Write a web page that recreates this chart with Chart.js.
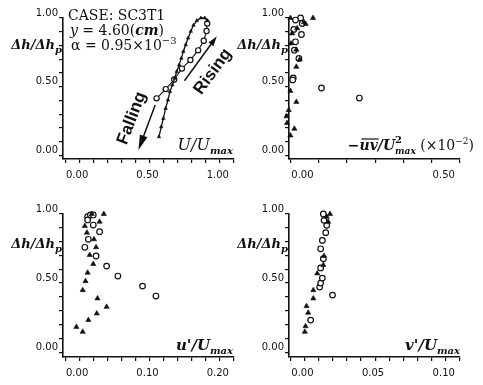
<!DOCTYPE html>
<html>
<head>
<meta charset="utf-8">
<script src="https://cdn.jsdelivr.net/npm/chart.js@4.4.1/dist/chart.umd.min.js"></script>
<style>
  html, body { margin: 0; padding: 0; background: #fff; }
  #wrap { position: relative; width: 483px; height: 385px; overflow: hidden; }
  .panel { position: absolute; }
</style>
</head>
<body>
<div id="wrap">
  <div class="panel" style="left:0;top:0;width:241px;height:190px"><canvas id="c1"></canvas></div>
  <div class="panel" style="left:225px;top:0;width:258px;height:190px"><canvas id="c2"></canvas></div>
  <div class="panel" style="left:0;top:190px;width:241px;height:195px"><canvas id="c3"></canvas></div>
  <div class="panel" style="left:225px;top:190px;width:258px;height:195px"><canvas id="c4"></canvas></div>
</div>
<script>
// ── Data ──────────────────────────────────────────────────────────────────────
// shared vertical axis: Δh/Δhp
const hMinor = [0, 0.1, 0.2, 0.3, 0.4, 0.5, 0.6, 0.7, 0.8, 0.9, 1.0];
const hMajor = [0, 0.5, 1.0];

// panel 1: U/Umax
const uMinor = [0, 0.1, 0.2, 0.3, 0.4, 0.5, 0.6, 0.7, 0.8, 0.9, 1.0, 1.1, 1.2];
const uMajor = [0, 0.5, 1.0];
const uTriU = [0.667, 0.683, 0.698, 0.714, 0.731, 0.745, 0.762, 0.779, 0.793, 0.810,
               0.826, 0.840, 0.857, 0.874, 0.893, 0.912, 0.936, 0.964, 0.993, 1.012];
const uTriH = [0.136, 0.209, 0.270, 0.343, 0.404, 0.465, 0.513, 0.562, 0.611, 0.659,
               0.708, 0.757, 0.805, 0.854, 0.903, 0.947, 0.981, 1.0, 1.0, 0.981];
const uCircU = [1.01, 1.005, 0.985, 0.945, 0.89, 0.83, 0.775, 0.715, 0.65];
const uCircH = [0.96, 0.905, 0.835, 0.765, 0.695, 0.632, 0.553, 0.483, 0.416];

// panel 2: -uv/Umax^2 (x10^-2)
const uvMinor = [0, 0.1, 0.2, 0.3, 0.4, 0.5, 0.6];
const uvMajor = [0, 0.5];
const uvTriX = [0.08, 0.0, 0.048, 0.054, 0.024, 0.006, 0.002, 0.021, 0.033, 0.021,
                0.0, 0.021, -0.006, -0.014, -0.012, 0.014, 0.0];
const uvTriH = [1.0, 1.0, 0.97, 0.956, 0.925, 0.888, 0.815, 0.77, 0.698, 0.645,
                0.47, 0.39, 0.33, 0.285, 0.236, 0.195, 0.146];
const uvCircX = [0.036, 0.018, 0.042, 0.012, 0.039, 0.018, 0.014, 0.03, -0.026, 0.01, 0.008, 0.11, 0.244];
const uvCircH = [1.0, 0.985, 0.96, 0.917, 0.88, 0.827, 0.766, 0.706, 0.628, 0.564, 0.55, 0.491, 0.418];

// panel 3: u'/Umax
const upMinor = [0, 0.02, 0.04, 0.06, 0.08, 0.1, 0.12, 0.14, 0.16, 0.18, 0.2, 0.22, 0.24];
const upMajor = [0, 0.1, 0.2];
const upTriX = [0.055, 0.038, 0.049, 0.028, 0.031, 0.041, 0.044, 0.035, 0.040, 0.032,
                0.029, 0.025, 0.046, 0.059, 0.045, 0.033, 0.016, 0.025];
const upTriH = [1.0, 1.0, 0.944, 0.913, 0.865, 0.817, 0.759, 0.703, 0.638, 0.575,
                0.514, 0.449, 0.389, 0.328, 0.28, 0.232, 0.183, 0.147];
const upCircX = [0.032, 0.036, 0.04, 0.032, 0.04, 0.049, 0.033, 0.028, 0.044, 0.059, 0.075, 0.110, 0.129];
const upCircH = [0.98, 0.993, 0.993, 0.957, 0.92, 0.872, 0.817, 0.759, 0.696, 0.623, 0.551, 0.478, 0.406];

// panel 4: v'/Umax
const vpMinor = [0, 0.01, 0.02, 0.03, 0.04, 0.05, 0.06, 0.07, 0.08, 0.09, 0.1, 0.11, 0.12];
const vpMajor = [0, 0.05, 0.1];
const vpTriX = [0.0102, 0.0107, 0.0126, 0.0114, 0.0162, 0.0162, 0.019, 0.0233, 0.0238, 0.0267, 0.028, 0.0257];
const vpTriH = [0.147, 0.188, 0.285, 0.333, 0.389, 0.449, 0.57, 0.63, 0.696, 0.944, 1.0, 0.98];
const vpCircX = [0.0143, 0.0298, 0.0207, 0.0214, 0.0226, 0.0214, 0.0233, 0.0214, 0.0226, 0.025, 0.0257, 0.0238, 0.0233];
const vpCircH = [0.232, 0.413, 0.471, 0.5, 0.536, 0.61, 0.676, 0.748, 0.809, 0.865, 0.918, 0.954, 1.0];

// ── Helpers ───────────────────────────────────────────────────────────────────
const INK = '#111';
const SERIF = '"DejaVu Serif", "Liberation Serif", serif';
const pts = (xs, ys) => xs.map((x, i) => ({ x, y: ys[i] }));

function triSet(xs, ys, r, line) {
  return {
    data: pts(xs, ys), pointStyle: 'triangle', pointRadius: r,
    pointBackgroundColor: INK, pointBorderColor: INK, pointBorderWidth: 0.6,
    showLine: !!line, borderColor: INK, borderWidth: 1.3, clip: false,
  };
}
function circSet(xs, ys, r, line) {
  return {
    data: pts(xs, ys), pointStyle: 'circle', pointRadius: r,
    pointBackgroundColor: '#fff', pointBorderColor: INK, pointBorderWidth: 1.2,
    showLine: !!line, borderColor: INK, borderWidth: 1.1, clip: false,
  };
}

function axis(min, max, minor, major, dir, size) {
  return {
    type: 'linear', min, max,
    afterBuildTicks: s => { s.ticks = minor.map(v => ({ value: v })); },
    afterFit: s => { if (dir === 'x') s.height = size; else s.width = size; },
    border: { display: true, color: INK, width: 1.6 },
    grid: { display: true, drawOnChartArea: false, drawTicks: true, tickLength: 4, color: INK, lineWidth: 1.2 },
    ticks: {
      autoSkip: false, maxRotation: 0, minRotation: 0,
      padding: dir === 'x' ? 6 : 1,
      labelOffset: dir === 'x' ? 12 : -5,
      color: INK, font: { family: '"DejaVu Sans", sans-serif', size: 10 },
      callback: v => major.some(m => Math.abs(m - v) < 1e-9) ? v.toFixed(2) : '',
    },
  };
}

// rich text: segs = [text, font, dy, noAdvance]
function rich(ctx, x, y, segs, align) {
  let w = 0;
  segs.forEach(s => { ctx.font = s[1]; if (!s[3]) w += ctx.measureText(s[0]).width; });
  let cx = align === 'right' ? x - w : x;
  const at = [];
  segs.forEach(s => {
    ctx.font = s[1];
    at.push(cx);
    ctx.fillText(s[0], cx, y + (s[2] || 0));
    if (!s[3]) cx += ctx.measureText(s[0]).width;
  });
  return at;
}

function yTitle(ctx, area, dy) {
  rich(ctx, area.left - 1, area.top + dy, [
    ['Δh/Δh', `italic bold 13px ${SERIF}`, 0],
    ['p', `italic bold 10px ${SERIF}`, 4],
  ], 'right');
}

function arrow(ctx, x0, y0, x1, y1, headL, headW) {
  const a = Math.atan2(y1 - y0, x1 - x0);
  ctx.beginPath();
  ctx.moveTo(x0, y0);
  ctx.lineTo(x1 - Math.cos(a) * headL * 0.8, y1 - Math.sin(a) * headL * 0.8);
  ctx.lineWidth = 1.5; ctx.strokeStyle = INK; ctx.stroke();
  ctx.beginPath();
  ctx.moveTo(x1, y1);
  ctx.lineTo(x1 - Math.cos(a) * headL - Math.sin(a) * headW / 2, y1 - Math.sin(a) * headL + Math.cos(a) * headW / 2);
  ctx.lineTo(x1 - Math.cos(a) * headL + Math.sin(a) * headW / 2, y1 - Math.sin(a) * headL - Math.cos(a) * headW / 2);
  ctx.closePath(); ctx.fillStyle = INK; ctx.fill();
}

function rotText(ctx, x, y, ang, text, font) {
  ctx.save();
  ctx.translate(x, y); ctx.rotate(ang);
  ctx.font = font; ctx.textAlign = 'center'; ctx.textBaseline = 'middle';
  ctx.fillText(text, 0, 0);
  ctx.restore();
}

// ── Decorations per panel ─────────────────────────────────────────────────────
function decoU(chart) {
  const { ctx, chartArea: a, scales: { x, y } } = chart;
  ctx.save();
  ctx.fillStyle = INK; ctx.textBaseline = 'alphabetic';
  yTitle(ctx, a, 31);
  rich(ctx, a.left + 5, 20, [['CASE: SC3T1', `14px ${SERIF}`, 0]]);
  rich(ctx, a.left + 7, 35, [
    ['y', `italic 14px ${SERIF}`, 0], [' = 4.60(', `14px ${SERIF}`, 0],
    ['cm', `italic bold 14px ${SERIF}`, 0], [')', `14px ${SERIF}`, 0],
  ]);
  rich(ctx, a.left + 8, 50, [
    ['α = 0.95×10', `14px ${SERIF}`, 0], ['−3', `10px ${SERIF}`, -6],
  ]);
  rich(ctx, a.right - 1, a.bottom - 9, [
    ['U/U', `italic 16px ${SERIF}`, 0], ['max', `italic bold 10px ${SERIF}`, 4],
  ], 'right');
  // stage arrows
  const px = v => x.getPixelForValue(v), py = v => y.getPixelForValue(v);
  arrow(ctx, px(0.848), py(0.544), px(1.078), py(0.867), 10, 6);
  arrow(ctx, px(0.64), py(0.368), px(0.521), py(0.041), 15, 8);
  ctx.fillStyle = INK;
  rotText(ctx, px(1.05), py(0.61), -0.94, 'Rising', `bold 17px "Liberation Sans", Arial, sans-serif`);
  rotText(ctx, px(0.474), py(0.271), -1.21, 'Falling', `bold 17px "Liberation Sans", Arial, sans-serif`);
  ctx.restore();
}

function decoUV(chart) {
  const { ctx, chartArea: a } = chart;
  ctx.save();
  ctx.fillStyle = INK; ctx.textBaseline = 'alphabetic';
  yTitle(ctx, a, 31);
  const at = rich(ctx, a.right + 14, a.bottom - 9, [
    ['−', `bold 14px ${SERIF}`, 0],
    ['uv', `italic bold 14px ${SERIF}`, 0],
    ['/U', `italic bold 14px ${SERIF}`, 0],
    ['2', `bold 10px ${SERIF}`, -7, true],
    ['max', `italic bold 9px ${SERIF}`, 4],
    [' (×10', `14px ${SERIF}`, 0],
    ['−2', `9px ${SERIF}`, -6],
    [')', `14px ${SERIF}`, 0],
  ], 'right');
  ctx.font = `italic bold 14px ${SERIF}`;
  const w = ctx.measureText('uv').width;
  ctx.beginPath();
  ctx.moveTo(at[1] + 2, a.bottom - 20); ctx.lineTo(at[1] + w + 1, a.bottom - 20);
  ctx.lineWidth = 1.2; ctx.strokeStyle = INK; ctx.stroke();
  ctx.restore();
}

function decoUP(chart) {
  const { ctx, chartArea: a } = chart;
  ctx.save();
  ctx.fillStyle = INK; ctx.textBaseline = 'alphabetic';
  yTitle(ctx, a, 34);
  rich(ctx, a.right - 1, a.bottom - 7, [
    ["u'/U", `italic bold 15px ${SERIF}`, 0], ['max', `italic bold 10px ${SERIF}`, 4],
  ], 'right');
  ctx.restore();
}

function decoVP(chart) {
  const { ctx, chartArea: a } = chart;
  ctx.save();
  ctx.fillStyle = INK; ctx.textBaseline = 'alphabetic';
  yTitle(ctx, a, 34);
  rich(ctx, a.right, a.bottom - 7, [
    ["v'/U", `italic bold 15px ${SERIF}`, 0], ['max', `italic bold 10px ${SERIF}`, 4],
  ], 'right');
  ctx.restore();
}

// ── Charts ────────────────────────────────────────────────────────────────────
function panel(id, cfg) {
  return new Chart(document.getElementById(id), {
    type: 'scatter',
    data: { datasets: cfg.datasets },
    options: {
      responsive: true, maintainAspectRatio: false, animation: false, devicePixelRatio: 1,
      layout: { padding: { left: 0, top: cfg.top, right: cfg.right, bottom: 0 } },
      plugins: { legend: { display: false }, tooltip: { enabled: false } },
      scales: {
        x: axis(cfg.xMin, cfg.xMax, cfg.xMinor, cfg.xMajor, 'x', cfg.bottomH),
        y: axis(cfg.yMin, 1.0, hMinor, hMajor, 'y', cfg.leftW),
      },
    },
    plugins: [{ id: 'deco', afterDraw: cfg.deco }],
  });
}

panel('c1', {
  datasets: [triSet(uTriU, uTriH, 2, true), circSet(uCircU, uCircH, 2.6, true)],
  xMin: -0.015, xMax: 1.2, xMinor: uMinor, xMajor: uMajor, yMin: -0.025,
  top: 18, right: 7, leftW: 63, bottomH: 31, deco: decoU,
});
panel('c2', {
  datasets: [triSet(uvTriX, uvTriH, 3), circSet(uvCircX, uvCircH, 2.8)],
  xMin: -0.005, xMax: 0.6, xMinor: uvMinor, xMajor: uvMajor, yMin: -0.025,
  top: 18, right: 23, leftW: 64, bottomH: 31, deco: decoUV,
});
panel('c3', {
  datasets: [triSet(upTriX, upTriH, 3), circSet(upCircX, upCircH, 2.8)],
  xMin: -0.003, xMax: 0.24, xMinor: upMinor, xMajor: upMajor, yMin: -0.035,
  top: 24, right: 7, leftW: 63, bottomH: 28, deco: decoUP,
});
panel('c4', {
  datasets: [triSet(vpTriX, vpTriH, 3), circSet(vpCircX, vpCircH, 2.8)],
  xMin: -0.001, xMax: 0.12, xMinor: vpMinor, xMajor: vpMajor, yMin: -0.035,
  top: 24, right: 23, leftW: 64, bottomH: 28, deco: decoVP,
});
</script>
</body>
</html>
